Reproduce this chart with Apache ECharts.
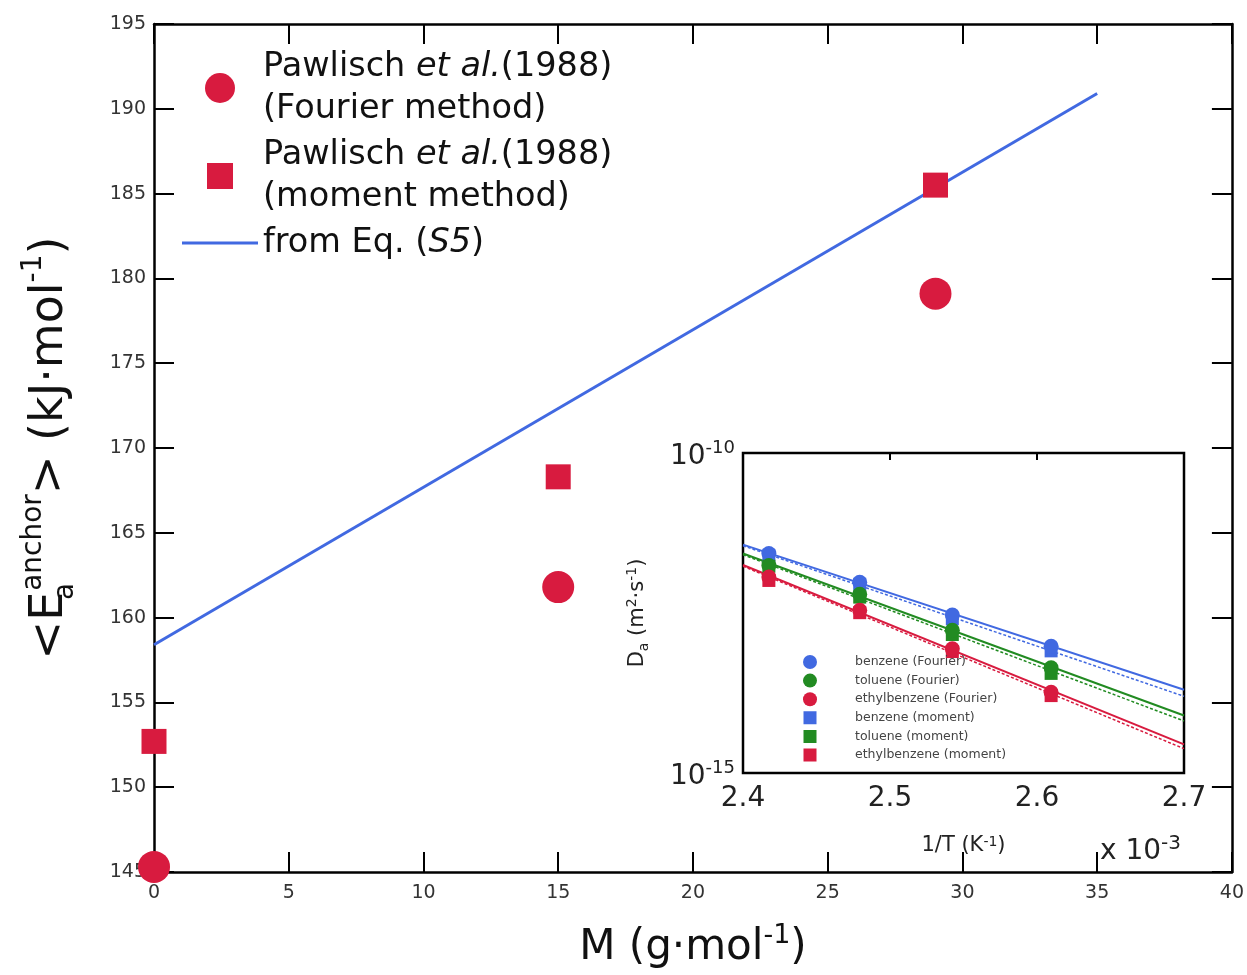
<!DOCTYPE html>
<html lang="en">
<head>
    <meta charset="UTF-8">
    <title>Ea anchor vs M</title>
    <script src="https://cdn.jsdelivr.net/npm/echarts@6/dist/echarts.min.js"></script>
    <style>
        * {
            margin: 0;
            padding: 0;
        }

        html, body {
            width: 100%;
            height: 100%;
            overflow: hidden;
            background: #fff;
        }

        .chart {
            width: 1247px;
            height: 975px;
        }
    </style>
</head>
<body>
<div class="chart"></div>
<script>
    // main plot: activation energy vs molar mass
    let massFourier = [0, 15, 29];
    let eaFourier = [145.3, 161.8, 179.1];
    let massMoment = [0, 15, 29];
    let eaMoment = [152.7, 168.3, 185.5];
    let massEq = [0, 35];
    let eaEq = [158.4, 190.9];

    // inset: diffusivity vs 1/T (x 10^-3)
    let invT = [2.4176, 2.4794, 2.5424, 2.6096];
    let benzeneFourier = [2.69e-12, 9.55e-13, 2.95e-13, 9.55e-14];
    let tolueneFourier = [1.74e-12, 6.2e-13, 1.70e-13, 4.4e-14];
    let ethylFourier = [1.15e-12, 3.5e-13, 8.7e-14, 1.82e-14];
    let benzeneMoment = [2.51e-12, 8.9e-13, 2.57e-13, 8.1e-14];
    let tolueneMoment = [1.70e-12, 5.6e-13, 1.46e-13, 3.6e-14];
    let ethylMoment = [1.02e-12, 3.2e-13, 7.9e-14, 1.62e-14];
    let fitX = [2.4, 2.7];
    let benzeneFit = [3.7e-12, 2.0e-14];
    let benzeneFit2 = [3.55e-12, 1.58e-14];
    let tolueneFit = [2.69e-12, 7.9e-15];
    let tolueneFit2 = [2.57e-12, 6.5e-15];
    let ethylFit = [1.78e-12, 2.8e-15];
    let ethylFit2 = [1.70e-12, 2.4e-15];

    let mainTicks = {min: 0, max: 40, interval: 5};
    let yTicks = {min: 145, max: 195, interval: 5};

    let red = '#d81b3f';
    let blue = '#4169e1';
    let green = '#228b22';
    let font = 'DejaVu Sans, sans-serif';

    // legend icons: tiny corner triangles fix the icon box so the shape is not stretched
    let mainBox = 'M0,0L0.01,0L0,0.01Z M76,30L75.99,30L76,29.99Z ';
    let squareIcon = 'path://' + mainBox + 'M25,2L51,2L51,28L25,28Z';
    let lineIcon = 'path://' + mainBox + 'M0,13.5L76,13.5L76,16.5L0,16.5Z';
    let smallSquareIcon = 'path://M0,0L0.01,0L0,0.01Z M60,14L59.99,14L60,13.99Z M23.5,0.5L36.5,0.5L36.5,13.5L23.5,13.5Z';

    let pair = (xs, ys) => xs.map((x, i) => [x, ys[i]]);

    let mycharts = echarts.init(document.querySelector('.chart'));

    let frame = {show: true, onZero: false, lineStyle: {color: '#000', width: 2.5}};
    let inTick = {show: true, inside: true, length: 20, lineStyle: {color: '#000', width: 2}};

    let option = {
        backgroundColor: '#fff',
        animation: false,
        textStyle: {fontFamily: font},
        grid: [
            {left: 154, right: 15, top: 24, bottom: 103},
            {left: 743, top: 453, width: 441, height: 320, show: true,
                backgroundColor: '#fff', borderColor: '#000', borderWidth: 2.5}
        ],
        xAxis: [
            {
                type: 'value', gridIndex: 0, position: 'bottom', ...mainTicks,
                axisLine: frame, axisTick: inTick, splitLine: {show: false},
                axisLabel: {fontSize: 19, color: '#333', margin: 12, fontFamily: font},
                name: '{n|M (g·mol}{sup|-1}{n|)}', nameLocation: 'middle', nameGap: 50,
                nameTextStyle: {
                    rich: {
                        n: {fontSize: 42, lineHeight: 52, color: '#111', fontFamily: font},
                        sup: {fontSize: 27, lineHeight: 30, verticalAlign: 'top', color: '#111', fontFamily: font}
                    }
                }
            },
            {
                type: 'value', gridIndex: 0, position: 'top', ...mainTicks,
                axisLine: frame, axisTick: inTick, axisLabel: {show: false}, splitLine: {show: false}
            },
            {
                type: 'value', gridIndex: 1, position: 'bottom', min: 2.4, max: 2.7, interval: 0.1,
                axisLine: {show: false, onZero: false}, axisTick: {show: false}, splitLine: {show: false},
                axisLabel: {fontSize: 28, color: '#222', margin: 12, fontFamily: font,
                    formatter: v => v.toFixed(1)},
                name: '1/T (K{sup|-1})', nameLocation: 'middle', nameGap: 62,
                nameTextStyle: {
                    fontSize: 21, color: '#222', fontFamily: font,
                    rich: {sup: {fontSize: 14, verticalAlign: 'top', lineHeight: 16, color: '#222', fontFamily: font}}
                }
            },
            {
                type: 'value', gridIndex: 1, position: 'top', min: 2.4, max: 2.7, interval: 0.1,
                axisLine: {show: false, onZero: false}, splitLine: {show: false}, axisLabel: {show: false},
                axisTick: {show: true, inside: true, length: 7, lineStyle: {color: '#000', width: 2}}
            }
        ],
        yAxis: [
            {
                type: 'value', gridIndex: 0, position: 'left', ...yTicks,
                axisLine: frame, axisTick: inTick, splitLine: {show: false},
                axisLabel: {fontSize: 19, color: '#333', margin: 8, fontFamily: font},
                name: '{n|<E}{sub|a}{sup|anchor}{n|> (kJ·mol}{sup|-1}{n|)}',
                nameLocation: 'middle', nameGap: 74,
                nameTextStyle: {
                    rich: {
                        n: {fontSize: 46, lineHeight: 60, color: '#111', fontFamily: font},
                        sub: {fontSize: 28, lineHeight: 28, width: 1, verticalAlign: 'bottom', color: '#111', fontFamily: font},
                        sup: {fontSize: 28, lineHeight: 28, verticalAlign: 'top', color: '#111', fontFamily: font}
                    }
                }
            },
            {
                type: 'value', gridIndex: 0, position: 'right', ...yTicks,
                axisLine: frame, axisTick: inTick, axisLabel: {show: false}, splitLine: {show: false}
            },
            {
                type: 'log', logBase: 10, gridIndex: 1, min: 1e-15, max: 1e-10,
                axisLine: {show: false, onZero: false}, axisTick: {show: false}, splitLine: {show: false},
                axisLabel: {
                    margin: 8,
                    padding: [8, 0, 0, 0],
                    formatter: function (v) {
                        let e = Math.round(Math.log10(v));
                        return (e === -10 || e === -15) ? '{b|10}{sup|' + e + '}' : '';
                    },
                    rich: {
                        b: {fontSize: 28, lineHeight: 36, color: '#222', fontFamily: font},
                        sup: {fontSize: 18, lineHeight: 20, verticalAlign: 'top', color: '#222', fontFamily: font}
                    }
                },
                name: 'D{sub|a} (m{sup|2}·s{sup|-1})', nameLocation: 'middle', nameGap: 92,
                nameTextStyle: {
                    fontSize: 21, color: '#222', lineHeight: 26, fontFamily: font,
                    rich: {
                        sub: {fontSize: 14, lineHeight: 14, verticalAlign: 'bottom', color: '#222', fontFamily: font},
                        sup: {fontSize: 14, lineHeight: 14, verticalAlign: 'top', color: '#222', fontFamily: font}
                    }
                }
            }
        ],
        legend: [
            {
                data: [
                    {name: 'Fourier', icon: 'circle'},
                    {name: 'moment', icon: squareIcon},
                    {name: 'eq', icon: lineIcon}
                ],
                orient: 'vertical', left: 177, top: 41,
                itemWidth: 76, itemHeight: 30, itemGap: 4,
                formatter: function (name) {
                    if (name === 'Fourier') return 'Pawlisch {i|et al.}(1988)\n(Fourier method)';
                    if (name === 'moment') return 'Pawlisch {i|et al.}(1988)\n(moment method)';
                    return 'from Eq. ({i|S5})';
                },
                textStyle: {
                    fontSize: 33.5, lineHeight: 42, color: '#111', fontFamily: font,
                    rich: {i: {fontSize: 33.5, lineHeight: 42, fontStyle: 'italic', color: '#111', fontFamily: font}}
                },
                selectedMode: false
            },
            {
                data: [
                    {name: 'benzene (Fourier)', icon: 'circle'},
                    {name: 'toluene (Fourier)', icon: 'circle'},
                    {name: 'ethylbenzene (Fourier)', icon: 'circle'},
                    {name: 'benzene (moment)', icon: smallSquareIcon},
                    {name: 'toluene (moment)', icon: smallSquareIcon},
                    {name: 'ethylbenzene (moment)', icon: smallSquareIcon}
                ],
                orient: 'vertical', left: 775, top: 650,
                itemWidth: 60, itemHeight: 14, itemGap: 4.6,
                textStyle: {fontSize: 12.5, color: '#444', fontFamily: font, padding: [0, 0, 0, 10]},
                selectedMode: false
            }
        ],
        graphic: [
            {
                type: 'text', left: 1100, top: 834,
                style: {
                    text: '{b|x 10}{sup|-3}',
                    rich: {
                        b: {fontSize: 28, lineHeight: 36, fill: '#222', fontFamily: font},
                        sup: {fontSize: 20, lineHeight: 22, verticalAlign: 'top', fill: '#222', fontFamily: font}
                    }
                }
            }
        ],
        series: [
            {
                name: 'Fourier', type: 'scatter', xAxisIndex: 0, yAxisIndex: 0, clip: false,
                symbol: 'circle', symbolSize: 32, itemStyle: {color: red, opacity: 1},
                data: pair(massFourier, eaFourier), z: 5
            },
            {
                name: 'moment', type: 'scatter', xAxisIndex: 0, yAxisIndex: 0, clip: false,
                symbol: 'rect', symbolSize: 25, itemStyle: {color: red, opacity: 1},
                data: pair(massMoment, eaMoment), z: 5
            },
            {
                name: 'eq', type: 'line', xAxisIndex: 0, yAxisIndex: 0,
                symbol: 'none', lineStyle: {color: blue, width: 3}, itemStyle: {color: blue},
                data: pair(massEq, eaEq)
            }
        ]
    };

    let insetSets = [
        ['benzene', blue, benzeneFourier, benzeneMoment, benzeneFit, benzeneFit2],
        ['toluene', green, tolueneFourier, tolueneMoment, tolueneFit, tolueneFit2],
        ['ethylbenzene', red, ethylFourier, ethylMoment, ethylFit, ethylFit2]
    ];
    insetSets.forEach(set => {
        let [name, color, fourier, moment, fit, fit2] = set;
        option.series.push({
            type: 'line', xAxisIndex: 2, yAxisIndex: 2, symbol: 'none', silent: true,
            lineStyle: {color, width: 2}, data: pair(fitX, fit)
        });
        option.series.push({
            type: 'line', xAxisIndex: 2, yAxisIndex: 2, symbol: 'none', silent: true,
            lineStyle: {color, width: 1.5, type: [3, 2]}, data: pair(fitX, fit2)
        });
    });
    insetSets.forEach(set => {
        let [name, color, fourier] = set;
        option.series.push({
            name: name + ' (Fourier)', type: 'scatter', xAxisIndex: 2, yAxisIndex: 2,
            symbol: 'circle', symbolSize: 15, itemStyle: {color, opacity: 1},
            data: pair(invT, fourier), z: 4
        });
    });
    insetSets.forEach(set => {
        let [name, color, fourier, moment] = set;
        option.series.push({
            name: name + ' (moment)', type: 'scatter', xAxisIndex: 2, yAxisIndex: 2,
            symbol: 'rect', symbolSize: 13, itemStyle: {color, opacity: 1},
            data: pair(invT, moment), z: 3
        });
    });

    mycharts.setOption(option);
</script>
</body>
</html>
